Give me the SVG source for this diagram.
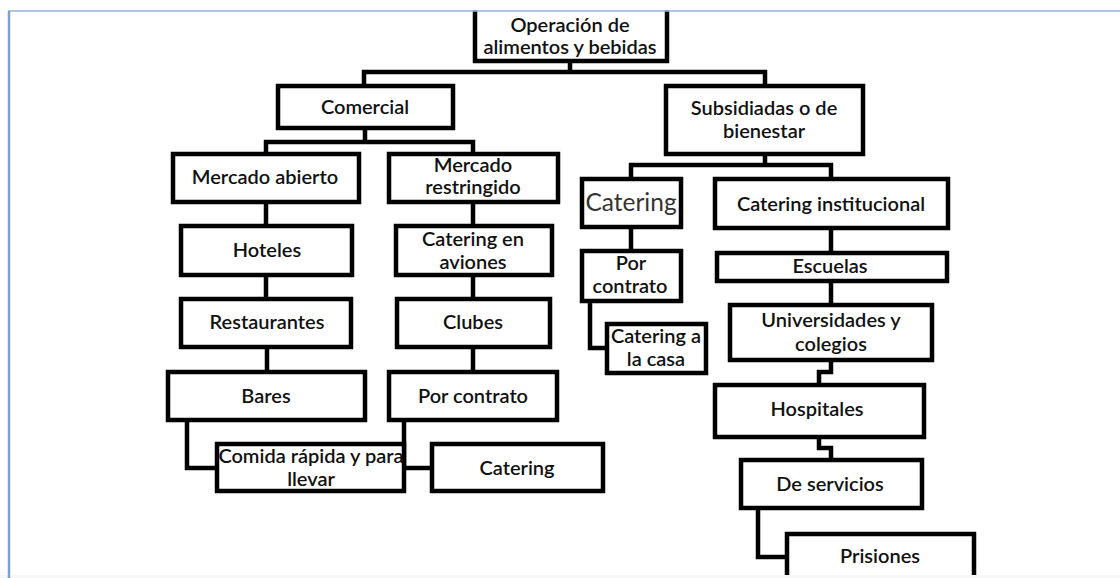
<svg xmlns="http://www.w3.org/2000/svg" width="1120" height="578" viewBox="0 0 1120 578">
<style>
.box{fill:#fff;stroke:#000;stroke-width:4.5}
.lnk{fill:none;stroke:#000;stroke-width:4.5;stroke-linejoin:miter}
text{font-family:Lato,"Open Sans","Liberation Sans",sans-serif;font-size:20px;fill:#111;text-anchor:middle;font-weight:600}
.big{font-size:24.5px;font-weight:400;fill:#333}
</style>
<rect x="0" y="0" width="1120" height="578" fill="#fff"/>
<g id="connectors">
<path class="lnk" d="M570,63 V72 M364,84 V72 H765 V84"/>
<path class="lnk" d="M365,130 V142 M266,152 V142 H473 V152"/>
<path class="lnk" d="M765,156 V165 M631,177 V165 H831 V177"/>
<path class="lnk" d="M266,204 V224 M266,277 V297 M267,349 V370"/>
<path class="lnk" d="M473,204 V224 M473,277 V297 M473,349 V370"/>
<path class="lnk" d="M187,422 V468 H215"/>
<path class="lnk" d="M404,422 V468 H430"/>
<path class="lnk" d="M631,229 V249 M590,303 V348 H605"/>
<path class="lnk" d="M831,230 V251 M831,283 V303 M831,362 V372 H819 V383 M819,439 V448 H831 V458 M758,510 V557 H785"/>
</g>
<g id="n-root"><rect class="box" x="475" y="-10" width="192" height="71"/><text x="570" y="32">Operación de</text><text x="570" y="54">alimentos y bebidas</text></g>
<g id="n-comercial"><rect class="box" x="278" y="86" width="175" height="42"/><text x="365" y="114">Comercial</text></g>
<g id="n-subsidiadas"><rect class="box" x="666" y="86" width="197" height="68"/><text x="764" y="115">Subsidiadas o de</text><text x="764" y="138">bienestar</text></g>
<g id="n-mercado-abierto"><rect class="box" x="173" y="154" width="186" height="48"/><text x="265" y="184">Mercado abierto</text></g>
<g id="n-mercado-restringido"><rect class="box" x="389" y="154" width="169" height="48"/><text x="473" y="172">Mercado</text><text x="473" y="194">restringido</text></g>
<g id="n-hoteles"><rect class="box" x="181" y="226" width="171" height="49"/><text x="267" y="257">Hoteles</text></g>
<g id="n-catering-aviones"><rect class="box" x="396" y="226" width="156" height="49"/><text x="473" y="246">Catering en</text><text x="473" y="269">aviones</text></g>
<g id="n-restaurantes"><rect class="box" x="181" y="299" width="170" height="48"/><text x="267" y="329">Restaurantes</text></g>
<g id="n-clubes"><rect class="box" x="397" y="299" width="153" height="48"/><text x="473" y="329">Clubes</text></g>
<g id="n-bares"><rect class="box" x="168" y="372" width="197" height="48"/><text x="266" y="403">Bares</text></g>
<g id="n-por-contrato-1"><rect class="box" x="389" y="372" width="168" height="48"/><text x="473" y="403">Por contrato</text></g>
<g id="n-comida-rapida"><rect class="box" x="217" y="444" width="187" height="47"/><text x="311" y="463">Comida rápida y para</text><text x="311" y="486">llevar</text></g>
<g id="n-catering-1"><rect class="box" x="432" y="444" width="171" height="47"/><text x="517" y="475">Catering</text></g>
<g id="n-catering-2"><rect class="box" x="582" y="179" width="99" height="48"/><text class="big" x="631" y="211">Catering</text></g>
<g id="n-catering-institucional"><rect class="box" x="715" y="179" width="233" height="49"/><text x="831" y="211">Catering institucional</text></g>
<g id="n-por-contrato-2"><rect class="box" x="582" y="251" width="99" height="50"/><text x="631" y="270">Por</text><text x="630" y="293">contrato</text></g>
<g id="n-catering-casa"><rect class="box" x="607" y="324" width="99" height="49"/><text x="656" y="343">Catering a</text><text x="656" y="366">la casa</text></g>
<g id="n-escuelas"><rect class="box" x="717" y="253" width="230" height="28"/><text x="830" y="273">Escuelas</text></g>
<g id="n-universidades"><rect class="box" x="730" y="305" width="202" height="55"/><text x="831" y="327">Universidades y</text><text x="831" y="351">colegios</text></g>
<g id="n-hospitales"><rect class="box" x="715" y="385" width="209" height="52"/><text x="817" y="416">Hospitales</text></g>
<g id="n-de-servicios"><rect class="box" x="741" y="460" width="181" height="48"/><text x="830" y="491">De servicios</text></g>
<g id="n-prisiones"><rect class="box" x="787" y="534" width="187" height="60"/><text x="880" y="563">Prisiones</text></g>
<g id="frame">
<rect x="0" y="0" width="1120" height="10.5" fill="#fff"/>
<rect x="0" y="575" width="1120" height="3" fill="#f7f7f4"/>
<path d="M8,11 H1120" stroke="#95b3d7" stroke-width="1.5" fill="none"/>
<path d="M9,11 V578" stroke="#7f9fcc" stroke-width="2.5" fill="none"/>
</g>
</svg>
